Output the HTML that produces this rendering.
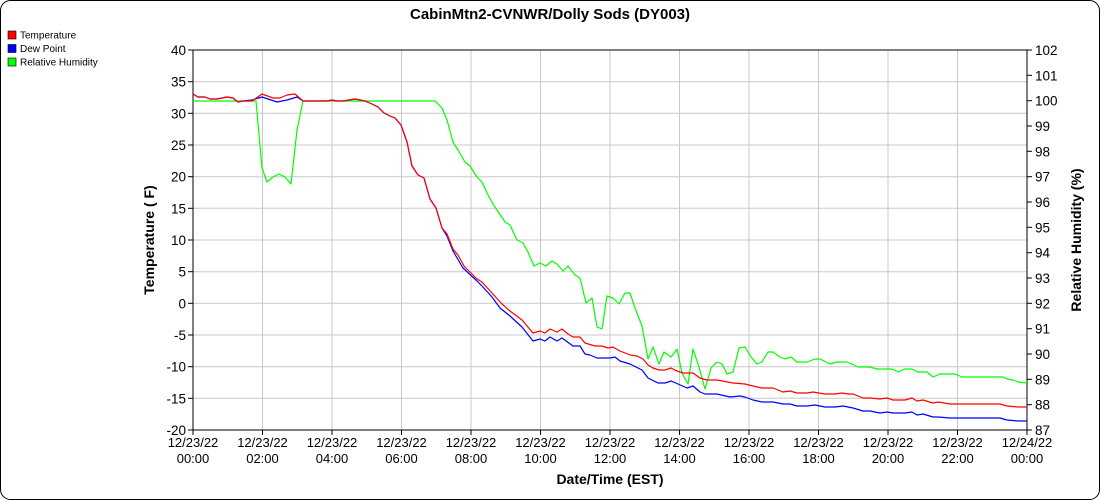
<!DOCTYPE html>
<html><head><meta charset="utf-8"><style>
html,body{margin:0;padding:0;background:#fff}
svg{display:block;font-family:"Liberation Sans",Arial,sans-serif}
</style></head><body>
<svg width="1100" height="500" viewBox="0 0 1100 500" xmlns="http://www.w3.org/2000/svg">
<rect x="0.5" y="0.5" width="1099" height="499" rx="10" fill="#fff" stroke="#000"/>
<text x="550" y="19" text-anchor="middle" font-size="15" font-weight="bold">CabinMtn2-CVNWR/Dolly Sods (DY003)</text>
<rect x="8" y="31" width="8" height="8" fill="#f00" stroke="#000" stroke-width="0.6"/>
<text x="20" y="38.5" font-size="10">Temperature</text>
<rect x="8" y="44.5" width="8" height="8" fill="#00f" stroke="#000" stroke-width="0.6"/>
<text x="20" y="52" font-size="10">Dew Point</text>
<rect x="8" y="58" width="8" height="8" fill="#0f0" stroke="#000" stroke-width="0.6"/>
<text x="20" y="65.5" font-size="10">Relative Humidity</text>
<g stroke="#c8c8c8" stroke-width="1">
<line x1="193" y1="81.7" x2="1027" y2="81.7"/><line x1="193" y1="113.3" x2="1027" y2="113.3"/>
<line x1="193" y1="145" x2="1027" y2="145"/><line x1="193" y1="176.7" x2="1027" y2="176.7"/>
<line x1="193" y1="208.3" x2="1027" y2="208.3"/><line x1="193" y1="240" x2="1027" y2="240"/>
<line x1="193" y1="271.7" x2="1027" y2="271.7"/><line x1="193" y1="303.3" x2="1027" y2="303.3"/>
<line x1="193" y1="335" x2="1027" y2="335"/><line x1="193" y1="366.7" x2="1027" y2="366.7"/>
<line x1="193" y1="398.3" x2="1027" y2="398.3"/>
<line x1="262.5" y1="50" x2="262.5" y2="430"/><line x1="332" y1="50" x2="332" y2="430"/>
<line x1="401.5" y1="50" x2="401.5" y2="430"/><line x1="471" y1="50" x2="471" y2="430"/>
<line x1="540.5" y1="50" x2="540.5" y2="430"/><line x1="610" y1="50" x2="610" y2="430"/>
<line x1="679.5" y1="50" x2="679.5" y2="430"/><line x1="749" y1="50" x2="749" y2="430"/>
<line x1="818.5" y1="50" x2="818.5" y2="430"/><line x1="888" y1="50" x2="888" y2="430"/>
<line x1="957.5" y1="50" x2="957.5" y2="430"/>
</g>
<rect x="193" y="50" width="834" height="380" fill="none" stroke="#000"/>
<g stroke="#000">
<line x1="188" y1="50" x2="193" y2="50"/><line x1="188" y1="81.7" x2="193" y2="81.7"/><line x1="188" y1="113.3" x2="193" y2="113.3"/><line x1="188" y1="145" x2="193" y2="145"/><line x1="188" y1="176.7" x2="193" y2="176.7"/><line x1="188" y1="208.3" x2="193" y2="208.3"/><line x1="188" y1="240" x2="193" y2="240"/><line x1="188" y1="271.7" x2="193" y2="271.7"/><line x1="188" y1="303.3" x2="193" y2="303.3"/><line x1="188" y1="335" x2="193" y2="335"/><line x1="188" y1="366.7" x2="193" y2="366.7"/><line x1="188" y1="398.3" x2="193" y2="398.3"/><line x1="188" y1="430" x2="193" y2="430"/>
<line x1="1027" y1="50" x2="1032" y2="50"/><line x1="1027" y1="75.3" x2="1032" y2="75.3"/><line x1="1027" y1="100.7" x2="1032" y2="100.7"/><line x1="1027" y1="126" x2="1032" y2="126"/><line x1="1027" y1="151.3" x2="1032" y2="151.3"/><line x1="1027" y1="176.7" x2="1032" y2="176.7"/><line x1="1027" y1="202" x2="1032" y2="202"/><line x1="1027" y1="227.3" x2="1032" y2="227.3"/><line x1="1027" y1="252.7" x2="1032" y2="252.7"/><line x1="1027" y1="278" x2="1032" y2="278"/><line x1="1027" y1="303.3" x2="1032" y2="303.3"/><line x1="1027" y1="328.7" x2="1032" y2="328.7"/><line x1="1027" y1="354" x2="1032" y2="354"/><line x1="1027" y1="379.3" x2="1032" y2="379.3"/><line x1="1027" y1="404.7" x2="1032" y2="404.7"/><line x1="1027" y1="430" x2="1032" y2="430"/>
<line x1="193" y1="430" x2="193" y2="435"/><line x1="262.5" y1="430" x2="262.5" y2="435"/><line x1="332" y1="430" x2="332" y2="435"/><line x1="401.5" y1="430" x2="401.5" y2="435"/><line x1="471" y1="430" x2="471" y2="435"/><line x1="540.5" y1="430" x2="540.5" y2="435"/><line x1="610" y1="430" x2="610" y2="435"/><line x1="679.5" y1="430" x2="679.5" y2="435"/><line x1="749" y1="430" x2="749" y2="435"/><line x1="818.5" y1="430" x2="818.5" y2="435"/><line x1="888" y1="430" x2="888" y2="435"/><line x1="957.5" y1="430" x2="957.5" y2="435"/><line x1="1027" y1="430" x2="1027" y2="435"/>
</g>
<g font-size="13.5" text-anchor="end">
<text x="186" y="55">40</text><text x="186" y="86.7">35</text><text x="186" y="118.3">30</text><text x="186" y="150">25</text><text x="186" y="181.7">20</text><text x="186" y="213.3">15</text><text x="186" y="245">10</text><text x="186" y="276.7">5</text><text x="186" y="308.3">0</text><text x="186" y="340">-5</text><text x="186" y="371.7">-10</text><text x="186" y="403.3">-15</text><text x="186" y="435">-20</text>
</g>
<g font-size="13.5">
<text x="1035" y="55">102</text><text x="1035" y="80.3">101</text><text x="1035" y="105.7">100</text><text x="1035" y="131">99</text><text x="1035" y="156.3">98</text><text x="1035" y="181.7">97</text><text x="1035" y="207">96</text><text x="1035" y="232.3">95</text><text x="1035" y="257.7">94</text><text x="1035" y="283">93</text><text x="1035" y="308.3">92</text><text x="1035" y="333.7">91</text><text x="1035" y="359">90</text><text x="1035" y="384.3">89</text><text x="1035" y="409.7">88</text><text x="1035" y="435">87</text>
</g>
<g font-size="13" text-anchor="middle">
<text x="193" y="447">12/23/22</text><text x="193" y="463">00:00</text>
<text x="262.5" y="447">12/23/22</text><text x="262.5" y="463">02:00</text>
<text x="332" y="447">12/23/22</text><text x="332" y="463">04:00</text>
<text x="401.5" y="447">12/23/22</text><text x="401.5" y="463">06:00</text>
<text x="471" y="447">12/23/22</text><text x="471" y="463">08:00</text>
<text x="540.5" y="447">12/23/22</text><text x="540.5" y="463">10:00</text>
<text x="610" y="447">12/23/22</text><text x="610" y="463">12:00</text>
<text x="679.5" y="447">12/23/22</text><text x="679.5" y="463">14:00</text>
<text x="749" y="447">12/23/22</text><text x="749" y="463">16:00</text>
<text x="818.5" y="447">12/23/22</text><text x="818.5" y="463">18:00</text>
<text x="888" y="447">12/23/22</text><text x="888" y="463">20:00</text>
<text x="957.5" y="447">12/23/22</text><text x="957.5" y="463">22:00</text>
<text x="1027" y="447">12/24/22</text><text x="1027" y="463">00:00</text>
</g>
<text x="610" y="484" text-anchor="middle" font-size="14" font-weight="bold">Date/Time (EST)</text>
<text transform="translate(154,240) rotate(-90)" text-anchor="middle" font-size="14" font-weight="bold">Temperature ( F)</text>
<text transform="translate(1081,240) rotate(-90)" text-anchor="middle" font-size="14" font-weight="bold">Relative Humidity (%)</text>
<g fill="none" stroke-width="1.2" stroke-linejoin="round">
<polyline stroke="#0f0" points="193,101 256,101 262,168 267,182 273,177 279,174 285,177 291,184 297,130 303,101 435,101 442,108 447,120 453,142 458,150 465,162 470,166 477,177 482,182 487,193 493,204 505,222 510,225 517,240 523,243 528,252 534,266 540,263 546,266 552,261 557,264 563,271 568,266 575,275 580,278 586,303 592,298 597,327 602,329 607,296 613,298 619,304 625,293 630,293 635,308 642,326 648,359 653,347 659,364 664,352 671,357 677,349 682,373 688,384 693,349 699,367 705,389 711,368 717,362 722,364 727,374 733,372 739,348 745,347 751,357 757,364 762,362 768,352 773,352 780,357 785,359 791,357 797,362 807,362 815,359 820,359 830,364 837,362 847,362 858,367 870,367 877,369 892,369 898,372 905,369 912,369 918,372 927,372 933,377 940,374 955,374 962,377 1003,377 1007,379 1013,380 1018,382 1027,383"/>
<polyline stroke="#00f" points="193,94 198,97 205,97 210,99 217,99 227,97 233,98 238,102 243,101 252,100 262,97 277,102 287,100 297,97 303,101 327,101 332,100 337,101 343,101 355,99 365,101 372,104 378,107 384,113 390,116 395,118 401,125 407,142 412,166 418,175 424,178 430,199 436,208 442,228 447,236 453,251 463,268 477,281 482,286 492,297 500,308 510,316 522,327 533,341 540,339 545,341 550,337 557,341 562,338 573,346 580,346 585,354 590,355 597,358 610,358 615,357 620,361 630,364 642,370 648,378 658,383 665,383 671,381 678,384 687,388 693,386 700,392 705,394 717,394 730,397 740,396 745,397 753,400 762,402 773,402 783,404 790,404 797,406 807,406 815,405 825,407 835,407 843,406 853,408 863,411 870,411 880,413 887,412 893,413 905,413 912,412 917,415 923,414 933,417 938,417 950,418 1000,418 1007,420 1018,421 1027,421"/>
<polyline stroke="#f00" points="193,94 198,97 205,97 210,99 217,99 227,97 233,98 238,102 243,101 252,101 262,94 273,98 280,98 287,95 295,94 303,101 327,101 332,100 337,101 343,101 355,99 365,101 372,104 378,107 384,113 390,116 395,118 401,125 407,142 412,166 418,175 424,178 430,199 436,208 442,228 447,234 453,249 458,255 464,266 470,272 477,279 482,282 492,293 502,304 510,311 522,320 533,333 540,331 545,333 550,329 557,332 562,329 568,334 573,337 580,337 585,343 595,346 602,346 608,348 613,347 620,351 630,355 637,356 643,359 648,365 653,368 659,370 665,370 671,368 677,371 683,373 693,373 700,378 707,380 717,380 733,383 745,384 753,386 762,388 773,388 783,392 790,391 797,393 807,393 813,392 825,394 835,394 842,393 848,394 853,394 863,398 870,398 880,399 887,398 893,400 905,400 912,398 917,401 923,400 933,403 938,402 950,404 1000,404 1007,406 1018,407 1027,407"/>
</g>
</svg>
</body></html>
